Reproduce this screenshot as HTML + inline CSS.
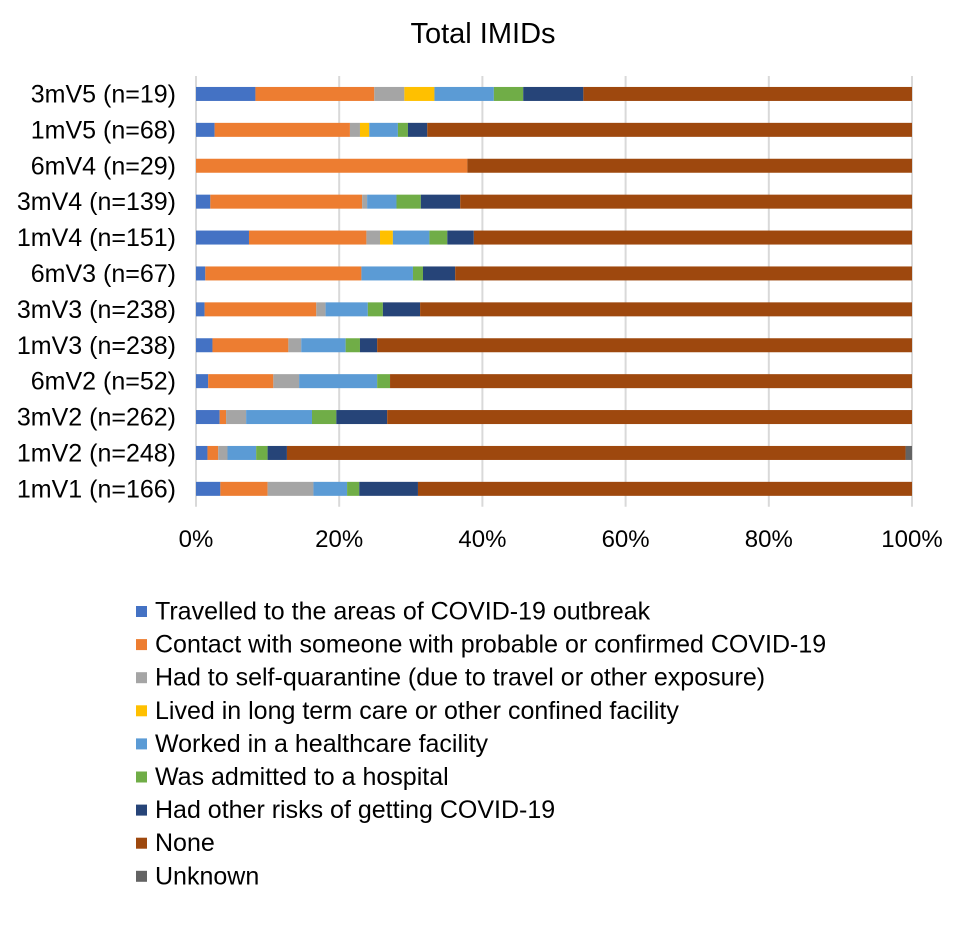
<!DOCTYPE html>
<html><head><meta charset="utf-8"><style>
html,body{margin:0;padding:0;background:#fff;width:967px;height:936px;overflow:hidden}
svg{display:block;font-family:"Liberation Sans",Arial,sans-serif}
</style></head><body>
<svg id="chart" width="967" height="936" viewBox="0 0 967 936">
<text x="483" y="43" font-size="29" text-anchor="middle" fill="#000">Total IMIDs</text>
<g id="grid"></g><g id="bars"></g><g id="ylabels"></g><g id="xlabels"></g><g id="legend"></g>
</svg>
<script>
const categories = ["3mV5 (n=19)","1mV5 (n=68)","6mV4 (n=29)","3mV4 (n=139)","1mV4 (n=151)","6mV3 (n=67)","3mV3 (n=238)","1mV3 (n=238)","6mV2 (n=52)","3mV2 (n=262)","1mV2 (n=248)","1mV1 (n=166)"];
const seriesNames = ["Travelled to the areas of COVID-19 outbreak","Contact with someone with probable or confirmed COVID-19","Had to self-quarantine (due to travel or other exposure)","Lived in long term care or other confined facility","Worked in a healthcare facility","Was admitted to a hospital","Had other risks of getting COVID-19","None","Unknown"];
const seriesColors = ["#4472c4","#ed7d31","#a5a5a5","#ffc000","#5b9bd5","#70ad47","#264478","#9e480e","#636363"];
const travelled = [8.3,2.6,0,2.0,7.4,1.3,1.2,2.3,1.7,3.3,1.6,3.4];
const contact   = [16.6,18.9,37.9,21.2,16.4,21.8,15.6,10.6,9.1,0.9,1.5,6.6];
const quarantine= [4.2,1.4,0,0.7,1.9,0,1.3,1.8,3.6,2.8,1.3,6.4];
const longTerm  = [4.2,1.3,0,0,1.8,0,0,0,0,0,0,0];
const healthcare= [8.3,4.0,0,4.1,5.1,7.2,5.9,6.2,10.9,9.2,4.0,4.7];
const hospital  = [4.1,1.4,0,3.4,2.5,1.4,2.1,2.0,1.8,3.4,1.6,1.7];
const otherRisk = [8.4,2.7,0,5.5,3.7,4.5,5.2,2.4,0,7.1,2.7,8.2];
const none      = [45.9,67.7,62.1,63.1,61.2,63.8,68.7,74.7,72.9,73.3,86.4,69.0];
const unknown   = [0,0,0,0,0,0,0,0,0,0,0.9,0];
const xTicks = ["0%","20%","40%","60%","80%","100%"];
const tickValues = [0,20,40,60,80,100];

const series=[travelled,contact,quarantine,longTerm,healthcare,hospital,otherRisk,none,unknown];
const NS="http://www.w3.org/2000/svg";
const X0=196,X1=912,Y0=76,ROW=35.9,BH=14;
function xs(v){return X0+(X1-X0)*v/100;}
function yc(i){return Y0+ROW/2+i*ROW;}
function mk(tag,attrs,parent){const e=document.createElementNS(NS,tag);for(const k in attrs)e.setAttribute(k,attrs[k]);parent.appendChild(e);return e;}
const grid=document.getElementById('grid'),bars=document.getElementById('bars'),yl=document.getElementById('ylabels'),xl=document.getElementById('xlabels'),lg=document.getElementById('legend');
tickValues.forEach((t,i)=>{
  const l=mk('line',{x1:xs(t),x2:xs(t),y1:Y0,y2:Y0+ROW*categories.length,stroke:'#d9d9d9','stroke-width':2},grid);
  
  
  const tx=mk('text',{x:xs(t),y:547,'font-size':24,'text-anchor':'middle',fill:'#000'},xl);
  tx.textContent=xTicks[i];
  
  
});
categories.forEach((c,i)=>{
  const tx=mk('text',{x:176,y:yc(i)+8.5,'font-size':25,'text-anchor':'end',fill:'#000'},yl);
  tx.textContent=c;
  
  
  let acc=0;
  series.forEach((s,j)=>{
    const v=s[i];
    if(v>0){
      const r=mk('rect',{x:xs(acc),y:yc(i)-BH/2,width:xs(acc+v)-xs(acc),height:BH,fill:seriesColors[j]},bars);
      
      
    }
    acc+=v;
  });
});
seriesNames.forEach((n,j)=>{
  const y=611+j*33.1;
  const g=mk('g',{},lg);
  
  
  mk('rect',{x:136,y:y-5,width:11,height:11,fill:seriesColors[j]},g);
  const tx=mk('text',{x:155,y:y+8.5,'font-size':25,fill:'#000'},g);
  tx.textContent=n;
});
</script>
</body></html>
